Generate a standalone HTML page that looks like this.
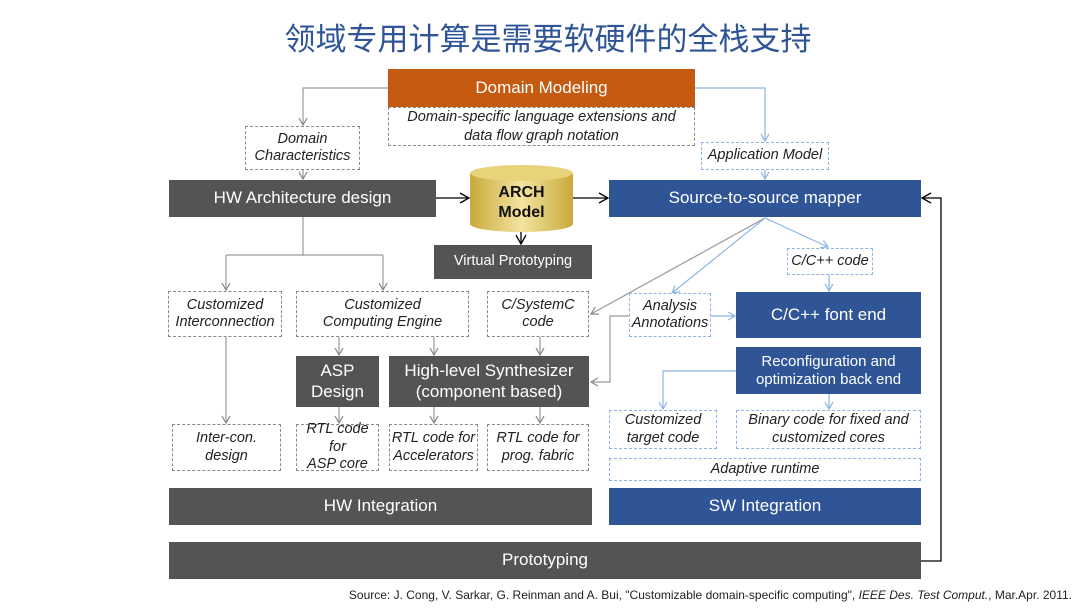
<!DOCTYPE html>
<html><head><meta charset="utf-8"><style>
body{margin:0;width:1080px;height:608px;background:#fff;position:relative;overflow:hidden;font-family:"Liberation Sans","Noto Sans CJK SC",sans-serif}
.b{position:absolute;display:flex;align-items:center;justify-content:center;text-align:center;box-sizing:border-box;line-height:1.2}
.g{background:#545454;color:#fff;font-size:17px}
.bl{background:#2f5597;color:#fff;font-size:17px}
.d{border:1.3px dashed #8a8a8a;font-style:italic;font-size:14.5px;color:#222;background:#fff}
.db{border:1.3px dashed #8db4e2;font-style:italic;font-size:14.5px;color:#222;background:#fff}
svg{position:absolute;left:0;top:0}
</style></head><body>
<div style="position:absolute;left:0;width:1096px;top:14px;text-align:center;font-size:31px;color:#2f5597;font-family:'Noto Sans CJK SC',sans-serif">领域专用计算是需要软硬件的全栈支持</div>
<svg width="1080" height="608">
<defs>
<marker id="ag" markerWidth="10" markerHeight="10" refX="8" refY="5" orient="auto" markerUnits="userSpaceOnUse"><path d="M1,1 L8,5 L1,9" fill="none" stroke="#888" stroke-width="1.2"/></marker>
<marker id="ab" markerWidth="10" markerHeight="10" refX="8" refY="5" orient="auto" markerUnits="userSpaceOnUse"><path d="M1,1 L8,5 L1,9" fill="none" stroke="#8db4e2" stroke-width="1.2"/></marker>
<marker id="ak" markerWidth="12" markerHeight="12" refX="10" refY="6" orient="auto" markerUnits="userSpaceOnUse"><path d="M1,1 L10,6 L1,11" fill="none" stroke="#000" stroke-width="1.3"/></marker>
<linearGradient id="gold" x1="0" x2="1"><stop offset="0" stop-color="#c9a93a"/><stop offset=".5" stop-color="#f3e4a0"/><stop offset="1" stop-color="#c9a93a"/></linearGradient>
</defs>
<g fill="none" stroke="#999" stroke-width="1.2">
<path d="M388,88 H303 V125" marker-end="url(#ag)"/>
<path d="M303,170 V179" marker-end="url(#ag)"/>
<path d="M303,217 V255 M226,255 H383 M226,255 V290" marker-end="url(#ag)"/>
<path d="M383,255 V290" marker-end="url(#ag)"/>
<path d="M226,337 V423" marker-end="url(#ag)"/>
<path d="M339,337 V355" marker-end="url(#ag)"/>
<path d="M434,337 V355" marker-end="url(#ag)"/>
<path d="M540,337 V355" marker-end="url(#ag)"/>
<path d="M339,407 V423" marker-end="url(#ag)"/>
<path d="M434,407 V423" marker-end="url(#ag)"/>
<path d="M540,407 V423" marker-end="url(#ag)"/>
<path d="M765,218 L591,314" marker-end="url(#ag)"/>
<path d="M629,316 H610 V382 H591" marker-end="url(#ag)"/>
</g>
<g fill="none" stroke="#8db4e2" stroke-width="1.2">
<path d="M695,88 H765 V141" marker-end="url(#ab)"/>
<path d="M765,170 V179" marker-end="url(#ab)"/>
<path d="M765,218 L672,293" marker-end="url(#ab)"/>
<path d="M765,218 L828,247" marker-end="url(#ab)"/>
<path d="M829,275 V291" marker-end="url(#ab)"/>
<path d="M711,316 H735" marker-end="url(#ab)"/>
<path d="M736,371 H663 V409" marker-end="url(#ab)"/>
<path d="M829,394 V409" marker-end="url(#ab)"/>
</g>
<g fill="none" stroke="#000" stroke-width="1.3">
<path d="M436,198 H469" marker-end="url(#ak)"/>
<path d="M573,198 H608" marker-end="url(#ak)"/>
<path d="M521,232 V244" marker-end="url(#ak)"/>
<path d="M921,561 H941 V198 H922" marker-end="url(#ak)"/>
</g>
<path d="M470,173 V224 A51.5,8 0 0 0 573,224 V173 Z" fill="url(#gold)"/>
<ellipse cx="521.5" cy="173" rx="51.5" ry="8" fill="#e8d27a"/>
</svg>
<div class="b" style="left:470px;top:180px;width:103px;height:45px;font-weight:bold;font-size:16px;color:#111">ARCH<br>Model</div>
<div class="b" style="left:388px;top:69px;width:307px;height:38px;background:#c55a11;color:#fff;font-size:17px">Domain Modeling</div>
<div class="b d" style="left:388px;top:107px;width:307px;height:39px;line-height:1.25">Domain-specific language extensions and<br>data flow graph notation</div>
<div class="b d" style="left:245px;top:126px;width:115px;height:44px">Domain<br>Characteristics</div>
<div class="b g" style="left:169px;top:180px;width:267px;height:37px">HW Architecture design</div>
<div class="b g" style="left:434px;top:245px;width:158px;height:34px;font-size:14.5px">Virtual Prototyping</div>
<div class="b db" style="left:701px;top:142px;width:128px;height:28px">Application Model</div>
<div class="b bl" style="left:609px;top:180px;width:312px;height:37px">Source-to-source mapper</div>
<div class="b db" style="left:787px;top:248px;width:86px;height:27px">C/C++ code</div>
<div class="b db" style="left:629px;top:293px;width:82px;height:44px">Analysis<br>Annotations</div>
<div class="b bl" style="left:736px;top:292px;width:185px;height:46px">C/C++ font end</div>
<div class="b bl" style="left:736px;top:347px;width:185px;height:47px;font-size:15px">Reconfiguration and<br>optimization back end</div>
<div class="b db" style="left:609px;top:410px;width:108px;height:39px">Customized<br>target code</div>
<div class="b db" style="left:736px;top:410px;width:185px;height:39px">Binary code for fixed and<br>customized cores</div>
<div class="b db" style="left:609px;top:458px;width:312px;height:23px">Adaptive runtime</div>
<div class="b d" style="left:168px;top:291px;width:114px;height:46px">Customized<br>Interconnection</div>
<div class="b d" style="left:296px;top:291px;width:173px;height:46px">Customized<br>Computing Engine</div>
<div class="b d" style="left:487px;top:291px;width:102px;height:46px">C/SystemC<br>code</div>
<div class="b g" style="left:296px;top:356px;width:83px;height:51px">ASP<br>Design</div>
<div class="b g" style="left:389px;top:356px;width:200px;height:51px">High-level Synthesizer<br>(component based)</div>
<div class="b d" style="left:172px;top:424px;width:109px;height:47px">Inter-con.<br>design</div>
<div class="b d" style="left:296px;top:424px;width:83px;height:47px">RTL code for<br>ASP core</div>
<div class="b d" style="left:389px;top:424px;width:89px;height:47px">RTL code for<br>Accelerators</div>
<div class="b d" style="left:487px;top:424px;width:102px;height:47px">RTL code for<br>prog. fabric</div>
<div class="b g" style="left:169px;top:488px;width:423px;height:37px">HW Integration</div>
<div class="b bl" style="left:609px;top:488px;width:312px;height:37px">SW Integration</div>
<div class="b g" style="left:169px;top:542px;width:752px;height:37px">Prototyping</div>
<div style="position:absolute;right:8px;top:588px;font-size:12px;color:#222;white-space:nowrap">Source: J. Cong, V. Sarkar, G. Reinman and A. Bui, "Customizable domain-specific computing", <i>IEEE Des. Test Comput.</i>, Mar.Apr. 2011.</div>
</body></html>
